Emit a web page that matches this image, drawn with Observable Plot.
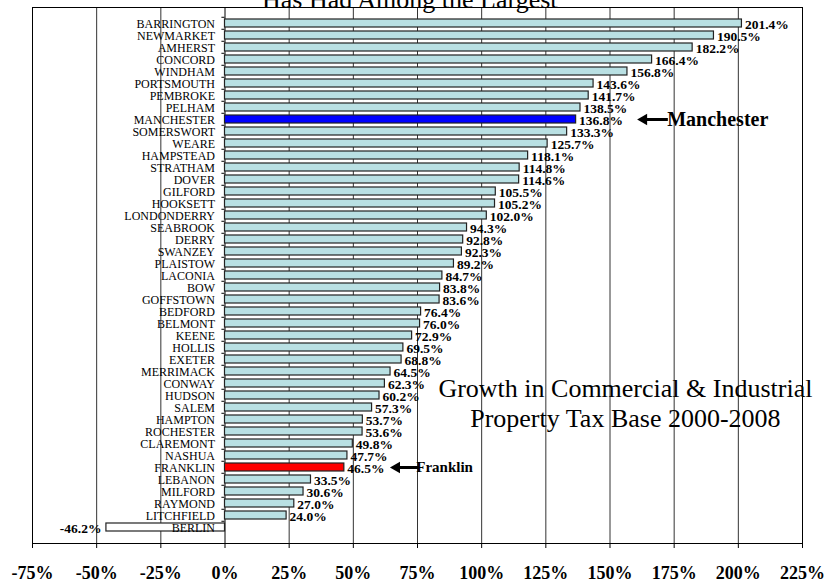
<!DOCTYPE html>
<html>
<head>
<meta charset="utf-8">
<script src="https://cdn.jsdelivr.net/npm/d3@7"></script>
<script src="https://cdn.jsdelivr.net/npm/@observablehq/plot@0.6"></script>
<style>
  html, body { margin: 0; padding: 0; background: white; }
  svg { overflow: hidden; display: block; }
</style>
</head>
<body>
<div id="chart"></div>
<script>
const towns = ["BARRINGTON","NEWMARKET","AMHERST","CONCORD","WINDHAM","PORTSMOUTH","PEMBROKE","PELHAM","MANCHESTER","SOMERSWORT","WEARE","HAMPSTEAD","STRATHAM","DOVER","GILFORD","HOOKSETT","LONDONDERRY","SEABROOK","DERRY","SWANZEY","PLAISTOW","LACONIA","BOW","GOFFSTOWN","BEDFORD","BELMONT","KEENE","HOLLIS","EXETER","MERRIMACK","CONWAY","HUDSON","SALEM","HAMPTON","ROCHESTER","CLAREMONT","NASHUA","FRANKLIN","LEBANON","MILFORD","RAYMOND","LITCHFIELD","BERLIN"];
const growth = [201.4,190.5,182.2,166.4,156.8,143.6,141.7,138.5,136.8,133.3,125.7,118.1,114.8,114.6,105.5,105.2,102.0,94.3,92.8,92.3,89.2,84.7,83.8,83.6,76.4,76.0,72.9,69.5,68.8,64.5,62.3,60.2,57.3,53.7,53.6,49.8,47.7,46.5,33.5,30.6,27.0,24.0,-46.2];
const xTicks = [-75,-50,-25,0,25,50,75,100,125,150,175,200,225];
const titleText = "Has Had Among the Largest";
const noteText = "Growth in Commercial & Industrial\nProperty Tax Base 2000-2008";
// annotations: town, arrow tip value, shaft end value, label start value
const annoTowns = ["MANCHESTER","FRANKLIN"];
const annoLabels = ["Manchester","Franklin"];
const annoTip = [160.6, 64.3];
const annoEnd = [170.4, 73.3];
const annoText = [172.3, 74.5];

const data = towns.map((t, i) => ({town: t, value: growth[i]}));
const annos = annoTowns.map((t, i) => ({town: t, label: annoLabels[i], tip: annoTip[i], end: annoEnd[i], tx: annoText[i]}));

const W = 828, H = 582, mT = 7, mB = 39, mL = 32, mR = 26;
const step = (H - mT - mB) / towns.length;

function fillFor(d) {
  if (d.town === "MANCHESTER") return "#0000ff";
  if (d.town === "FRANKLIN") return "#ff0000";
  if (d.value < 0) return "#ffffff";
  return "#b9e0e3";
}

const serif = "'Liberation Serif', 'Times New Roman', serif";

const chart = Plot.plot({
  width: W, height: H,
  marginTop: mT, marginBottom: mB, marginLeft: mL, marginRight: mR,
  style: {fontFamily: serif, fontSize: "12px", color: "black", background: "white", overflow: "hidden"},
  x: {domain: [-75, 225], axis: null},
  y: {domain: towns, paddingInner: 0.35, paddingOuter: 0.175, axis: null},
  marks: [
    Plot.ruleX(xTicks.filter(t => t > -75 && t < 225 && t !== 0), {stroke: "#333", strokeWidth: 1}),
    Plot.ruleX([0], {stroke: "black", strokeWidth: 1}),
    Plot.ruleY(towns, {y: d => d, x1: -1.2, x2: 0, dy: -step / 2, stroke: "black"}),
    Plot.barX(data, {y: "town", x1: 0, x2: "value", fill: fillFor, stroke: "#222", strokeWidth: 1.2}),
    Plot.text(data, {x: 0, y: "town", text: "town", textAnchor: "end", dx: -10, dy: 1, fontSize: 12}),
    Plot.text(data.filter(d => d.value >= 0), {x: "value", y: "town", text: d => d.value.toFixed(1) + "%", textAnchor: "start", dx: 3, dy: 1, fontSize: 13.5, fontWeight: "bold"}),
    Plot.text(data.filter(d => d.value < 0), {x: "value", y: "town", text: d => d.value.toFixed(1) + "%", textAnchor: "end", dx: -5, dy: 1, fontSize: 13.5, fontWeight: "bold"}),
    Plot.ruleY(annos, {y: "town", x1: "tip", x2: "end", stroke: "black", strokeWidth: 3, dx: 6}),
    Plot.dot(annos, {y: "town", x: "tip", dx: 6.6, symbol: "triangle", rotate: -90, r: 4.3, fill: "black", stroke: "none"}),
    Plot.text(annos, {y: "town", x: "tx", text: "label", textAnchor: "start", fontWeight: "bold", fontSize: d => d.town === "MANCHESTER" ? 20 : 15, dy: 0}),
    Plot.text([noteText], {x: 156, y: () => "SALEM", dy: -5, fontSize: 26, lineHeight: 1.15, textAnchor: "middle"}),
    Plot.text([titleText], {x: 72, frameAnchor: "top", lineAnchor: "bottom", dy: 0, fontSize: 26}),
    Plot.frame({stroke: "black", strokeWidth: 1}),
    Plot.axisX({ticks: xTicks, tickFormat: d => d + "%", tickSize: 5, tickPadding: 18, fontSize: 18, fontWeight: "bold", label: null, stroke: "black"})
  ]
});
document.getElementById("chart").appendChild(chart);
</script>
</body>
</html>
